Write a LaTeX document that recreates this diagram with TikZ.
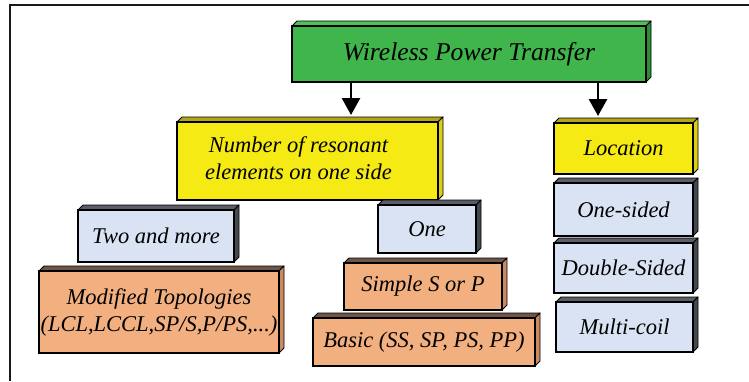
\documentclass[tikz,border=0pt]{standalone}
\usepackage{fontspec}
\setmainfont{Liberation Serif}
\usetikzlibrary{arrows.meta}
\definecolor{wgreen}{HTML}{40B54B}
\definecolor{wgreentop}{HTML}{4CC257}
\definecolor{wgreenside}{HTML}{2A8F35}
\definecolor{wyellow}{HTML}{F5EA14}
\definecolor{wyellowtop}{HTML}{B3A615}
\definecolor{wyellowside}{HTML}{DCCF12}
\definecolor{wblue}{HTML}{DAE3F3}
\definecolor{wbluetop}{HTML}{5A5E66}
\definecolor{wblueside}{HTML}{45484E}
\definecolor{worange}{HTML}{F2AF80}
\definecolor{worangetop}{HTML}{6E5548}
\definecolor{worangeside}{HTML}{C98A60}
\tikzset{
  tdface/.style={draw=black, line width=2.2pt, inner sep=0pt, align=center,
    font=\fontsize{22.5}{27}\selectfont\itshape},
  bevel/.style={draw=black, line width=0.9pt, line join=round},
  arr/.style={line width=2.8pt, -{Triangle[length=17pt,width=18pt]}},
  frameline/.style={line width=2pt, draw=black!90}
}
\newcommand{\tdbox}[9]{%
  \filldraw[bevel, fill=#7] (#2,#3) -- (#2+5,#3-5) -- (#4+5,#3-5) -- (#4,#3) -- cycle;
  \filldraw[bevel, fill=#8] (#4,#3) -- (#4+5,#3-5) -- (#4+5,#5-5) -- (#4,#5) -- cycle;
  \node[tdface, fill=#6, minimum width={#4-#2}, minimum height={#5-#3}] (#1) at ({(#2+#4)/2},{(#3+#5)/2}) {#9};
}
\begin{document}
\begin{tikzpicture}[x=1pt,y=-1pt]
\useasboundingbox (0,0) rectangle (749,381);
\fill[white] (0,0) rectangle (749,381);
\draw[frameline] (10,381) -- (10,5) -- (749,5);

\tdbox{wpt}{292}{26}{646}{82}{wgreen}{wgreentop}{wgreenside}{\fontsize{25.6}{30}\selectfont Wireless Power Transfer}
\tdbox{num}{177}{122}{438}{200}{wyellow}{wyellowtop}{wyellowside}{\begin{tabular}{@{}c@{}}Number of resonant\\elements on one side\end{tabular}\hspace*{18pt}}
\tdbox{loc}{554}{123}{693}{174}{wyellow}{wyellowtop}{wyellowside}{Location}
\tdbox{two}{78}{210}{234}{262}{wblue}{wbluetop}{wblueside}{Two and more}
\tdbox{mod}{39}{271}{279}{353}{worange}{worangetop}{worangeside}{Modified Topologies\\(LCL,LCCL,SP/S,P/PS,...)}
\tdbox{one}{378}{205}{476}{253}{wblue}{wbluetop}{wblueside}{One}
\tdbox{simple}{344}{263}{502}{310}{worange}{worangetop}{worangeside}{Simple S or P}
\tdbox{basic}{313}{318}{535}{366}{worange}{worangetop}{worangeside}{Basic (SS, SP, PS, PP)}
\tdbox{onesided}{554}{183}{693}{236}{wblue}{wbluetop}{wblueside}{One-sided}
\tdbox{double}{554}{243}{693}{293}{wblue}{wbluetop}{wblueside}{Double-Sided}
\tdbox{multi}{556}{302}{693}{352}{wblue}{wbluetop}{wblueside}{Multi-coil}

\coordinate (a1) at (351,115);
\coordinate (a2) at (598,116);
\draw[arr] (wpt.south -| a1) -- (a1);
\draw[arr] (wpt.south -| a2) -- (a2);
\end{tikzpicture}
\end{document}
